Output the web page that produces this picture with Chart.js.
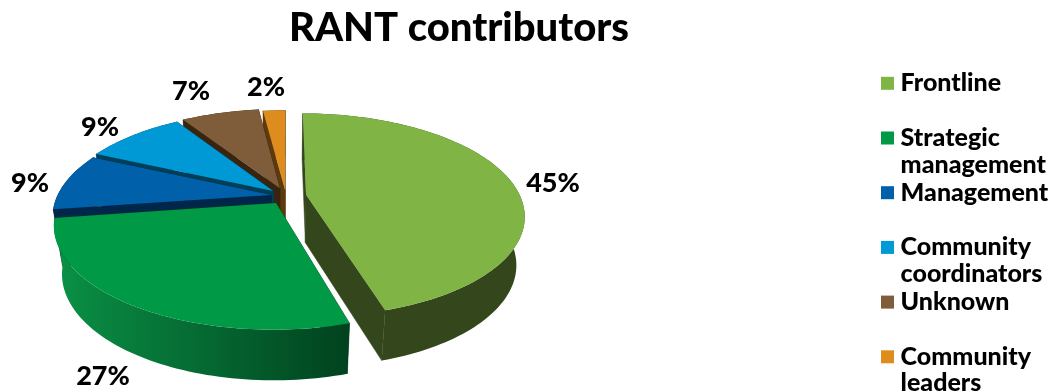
<!DOCTYPE html>
<html>
<head>
<meta charset="utf-8">
<title>RANT contributors</title>
<script src="https://cdn.jsdelivr.net/npm/chart.js@4/dist/chart.umd.min.js"></script>
<style>
  html, body { margin: 0; background: #fff; }
  canvas { display: block; }
</style>
</head>
<body>
<canvas id="pie-chart" width="1061" height="391"></canvas>
<script>
// blank second line keeps every legend row the same height
const categories = [
  ["Frontline", ""],
  ["Strategic", "management"],
  ["Management", ""],
  ["Community", "coordinators"],
  ["Unknown", ""],
  ["Community", "leaders"]
];
const shares = [45, 27, 9, 9, 7, 2];

const topColors  = ["#80b546", "#009a46", "#0060a9", "#0098d5", "#7f5c3a", "#df8c1e"];
const faceColors = ["#34471c", "#003d1c", "#00264a", "#003f58", "#38240f", "#5c3a0c"];
const rimLight   = ["#34471c", "#0a9146", "#00264a", "#003f58", "#38240f", "#5c3a0c"];
const rimDark    = ["#34471c", "#00421e", "#00264a", "#003f58", "#38240f", "#5c3a0c"];

// how far each slice is pulled out, as a fraction of the radius
const pullOut = [0.095, 0.085, 0.07, 0.08, 0.085, 0.06];
// centre of each percentage label
const labelSpots = [[553, 183], [103, 376], [30, 183], [100, 127], [191, 91], [266, 87]];

// tilted disc: front edge is nearer the viewer, so it gets bigger
const disc = { cx: 286, cy: 196, rx: 214, ry: 98, tilt: -0.2, depth: 48, floorX: 0.965, floorY: 1.02 };

const legendDrop = 8;
const swatchSize = 13;
const legendFontSize = 25;

function project(u, v, floor) {
  const w = 1 + disc.tilt * v;
  const sx = floor ? disc.floorX : 1;
  const sy = floor ? disc.floorY : 1;
  return {
    x: disc.cx + disc.rx * sx * u / w,
    y: disc.cy + disc.ry * sy * v / w + (floor ? disc.depth : 0)
  };
}

function tracePoints(ctx, pts) {
  ctx.beginPath();
  pts.forEach((p, i) => i ? ctx.lineTo(p.x, p.y) : ctx.moveTo(p.x, p.y));
  ctx.closePath();
}

function drawSlice(ctx, arc, i) {
  const { startAngle, endAngle } = arc.getProps(["startAngle", "endAngle"], true);
  const mid = (startAngle + endAngle) / 2;
  const ou = pullOut[i] * Math.cos(mid);
  const ov = pullOut[i] * Math.sin(mid);
  const steps = Math.max(2, Math.ceil((endAngle - startAngle) * 40));

  const top = [], floor = [];
  for (let s = 0; s <= steps; s++) {
    const a = startAngle + (endAngle - startAngle) * s / steps;
    top.push(project(ou + Math.cos(a), ov + Math.sin(a), false));
    floor.push(project(ou + Math.cos(a), ov + Math.sin(a), true));
  }
  const apexTop = project(ou, ov, false);
  const apexFloor = project(ou, ov, true);

  // cut faces first, the rim and the top cover whatever faces away
  ctx.fillStyle = faceColors[i];
  ctx.strokeStyle = faceColors[i];
  ctx.lineWidth = 0.5;
  [[top[0], floor[0]], [top[steps], floor[steps]]].forEach(([a, b]) => {
    tracePoints(ctx, [apexTop, a, b, apexFloor]);
    ctx.fill();
    ctx.stroke();
  });

  // outer wall, shaded from left to right
  const xs = top.map(p => p.x);
  const grad = ctx.createLinearGradient(Math.min(...xs), 0, Math.max(...xs), 0);
  grad.addColorStop(0, rimLight[i]);
  grad.addColorStop(1, rimDark[i]);
  ctx.fillStyle = grad;
  tracePoints(ctx, top.concat(floor.slice().reverse()));
  ctx.fill();

  ctx.fillStyle = topColors[i];
  tracePoints(ctx, [apexTop].concat(top));
  ctx.fill();
}

const tiltedPie = {
  id: "tiltedPie",
  afterLayout(chart) {
    // title sits over the pie, legend hangs off the right edge
    chart.titleBlock.left = 0;
    chart.titleBlock.right = 918;
    chart.legend.left = 885.4;
    chart.legend.right = 1061;
    chart.legend.top += legendDrop;
    chart.legend.bottom += legendDrop;
  },
  beforeDatasetsDraw(chart) {
    const ctx = chart.ctx;
    const arcs = chart.getDatasetMeta(0).data;
    ctx.save();
    // back slices first
    [5, 4, 3, 2, 0, 1].forEach(i => drawSlice(ctx, arcs[i], i));

    ctx.fillStyle = "#000";
    ctx.font = "900 27px Lato";
    ctx.textAlign = "center";
    ctx.textBaseline = "middle";
    shares.forEach((v, i) => ctx.fillText(v + "%", labelSpots[i][0], labelSpots[i][1]));
    ctx.restore();
    return false;
  },
  afterDraw(chart) {
    // the legend ties the text gap to the font size and clips to its own box,
    // so the swatches are painted here, closer to their labels
    const { ctx, legend } = chart;
    legend.legendItems.forEach((item, i) => {
      const y = legend.legendHitBoxes[i].top + (legendFontSize - swatchSize) / 2;
      ctx.fillStyle = item.fillStyle;
      ctx.fillRect(881, y, swatchSize, swatchSize);
    });
  }
};

new Chart(document.getElementById("pie-chart"), {
  type: "pie",
  data: {
    labels: categories,
    datasets: [{
      data: shares,
      backgroundColor: topColors,
      borderWidth: 0
    }]
  },
  options: {
    responsive: false,
    animation: false,
    layout: { padding: 0 },
    plugins: {
      tooltip: { enabled: false },
      title: {
        display: true,
        text: "RANT contributors",
        fullSize: false,
        color: "#000",
        font: { family: "Lato", size: 40, weight: "900" },
        padding: { top: 4, bottom: 8 }
      },
      legend: {
        position: "right",
        align: "end",
        labels: {
          color: "#000",
          boxWidth: 1,
          boxHeight: 1,
          padding: 1.7,
          font: { family: "Lato", size: legendFontSize, weight: "900", lineHeight: 1.06 }
        }
      }
    }
  },
  plugins: [tiltedPie]
});
</script>
</body>
</html>
